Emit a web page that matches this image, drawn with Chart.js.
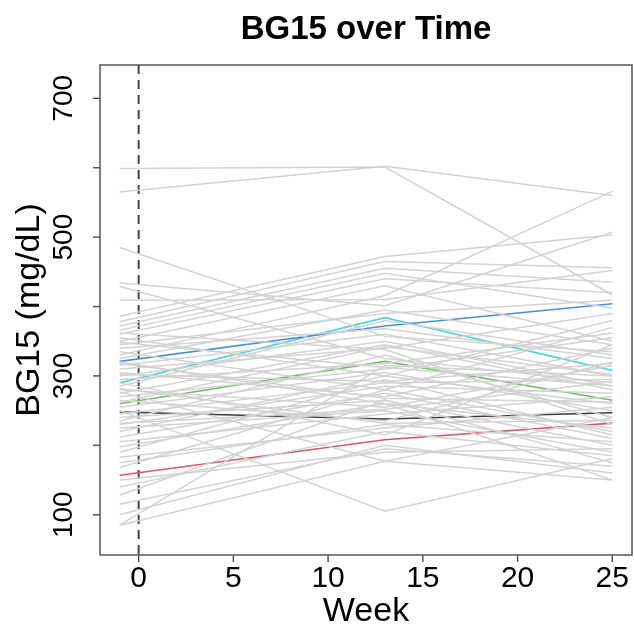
<!DOCTYPE html>
<html>
<head>
<meta charset="utf-8">
<script src="https://cdn.jsdelivr.net/npm/chart.js@4.4.1/dist/chart.umd.min.js"></script>
<style>
  html, body { margin: 0; padding: 0; background: #fff; }
  #wrap { width: 634px; height: 634px; }
</style>
</head>
<body>
<div id="wrap"><canvas id="chart" width="634" height="634"></canvas></div>
<script>
const weeks = [-1, 13, 25];
const xTicks = [0, 5, 10, 15, 20, 25];
const yTicks = [100, 200, 300, 400, 500, 600, 700];
const yTickLabels = ["100", "", "300", "", "500", "", "700"];

// one row per subject: BG15 at week -1, 13, 25
const grayLines = [
  [565, 602, 560], [599, 601, 417], [330, 416, 566], [485, 357, 335],
  [434, 401, 507], [429, 325, 290], [409, 410, 452], [386, 472, 503],
  [378, 465, 456], [372, 455, 435], [366, 448, 398], [360, 440, 420],
  [355, 300, 380], [350, 430, 350], [345, 390, 409], [340, 368, 325],
  [335, 280, 370], [325, 395, 345], [315, 360, 300], [310, 340, 390],
  [305, 270, 340], [300, 350, 285], [295, 318, 362], [285, 380, 330],
  [280, 255, 315], [275, 345, 280], [270, 310, 355], [265, 235, 320],
  [255, 305, 250], [250, 105, 181], [245, 290, 295], [240, 265, 200],
  [235, 330, 240], [230, 285, 275], [225, 250, 190], [220, 300, 260],
  [212, 275, 210], [205, 245, 270], [198, 260, 225], [190, 295, 215],
  [183, 225, 255], [175, 230, 205], [168, 280, 220], [150, 190, 195],
  [140, 220, 185], [128, 265, 175], [115, 195, 170], [100, 200, 160],
  [85, 315, 300], [85, 177, 150], [277, 177, 240], [320, 260, 150],
  [362, 338, 230], [290, 215, 345], [348, 312, 286], [302, 292, 318],
  [262, 342, 302], [232, 252, 292], [318, 268, 262], [282, 232, 236]
];

const blueLine = [321, 372, 404];
const cyanLine = [290, 384, 308];
const greenLine = [260, 321, 265];
const blackLine = [248, 238, 247];
const redLine = [157, 208, 232];

function toPoints(values) {
  return weeks.map((w, i) => ({ x: w, y: values[i] }));
}

function lineSet(values, color, width) {
  return {
    data: toPoints(values),
    borderColor: color,
    borderWidth: width,
    pointRadius: 0,
    fill: false,
    tension: 0,
  };
}

const datasets = grayLines.map((v) => lineSet(v, "#d3d3d3", 1.5));
datasets.push(lineSet(blueLine, "#4a8fdc", 1.6));
datasets.push(lineSet(cyanLine, "#52d3d9", 1.6));
datasets.push(lineSet(greenLine, "#6cc060", 1.6));
datasets.push(lineSet(blackLine, "#3a3a3a", 1.6));
datasets.push(lineSet(redLine, "#d9566e", 1.6));

const FONT = "'Liberation Sans', Arial, sans-serif";

// base-graphics style frame, ticks and labels drawn from the scales
const rFrame = {
  id: "rFrame",
  beforeDatasetsDraw(chart) {
    const { ctx, chartArea, scales } = chart;
    const x0 = scales.x.getPixelForValue(0);
    ctx.save();
    ctx.strokeStyle = "#444";
    ctx.lineWidth = 2;
    ctx.setLineDash([9, 6]);
    ctx.beginPath();
    ctx.moveTo(x0, chartArea.top);
    ctx.lineTo(x0, chartArea.bottom);
    ctx.stroke();
    ctx.restore();
  },
  afterDraw(chart) {
    const { ctx, chartArea, scales } = chart;
    const { left, right, top, bottom } = chartArea;
    ctx.save();
    ctx.strokeStyle = "#555";
    ctx.lineWidth = 1.5;
    ctx.strokeRect(left, top, right - left, bottom - top);

    ctx.fillStyle = "#000";
    ctx.textAlign = "center";
    ctx.textBaseline = "middle";

    // x axis
    ctx.font = "30px " + FONT;
    xTicks.forEach((v) => {
      const px = scales.x.getPixelForValue(v);
      ctx.beginPath();
      ctx.moveTo(px, bottom);
      ctx.lineTo(px, bottom + 7);
      ctx.stroke();
      ctx.fillText(String(v), px, bottom + 24);
    });

    // y axis
    ctx.font = "28px " + FONT;
    yTicks.forEach((v, i) => {
      const py = scales.y.getPixelForValue(v);
      ctx.beginPath();
      ctx.moveTo(left, py);
      ctx.lineTo(left - 7, py);
      ctx.stroke();
      if (yTickLabels[i]) {
        ctx.save();
        ctx.translate(left - 36, py);
        ctx.rotate(-Math.PI / 2);
        ctx.fillText(yTickLabels[i], 0, 0);
        ctx.restore();
      }
    });

    ctx.font = "34px " + FONT;
    ctx.fillText("Week", (left + right) / 2, bottom + 57);
    ctx.save();
    ctx.translate(30, (top + bottom) / 2);
    ctx.rotate(-Math.PI / 2);
    ctx.fillText("BG15 (mg/dL)", 0, 0);
    ctx.restore();

    ctx.font = "bold 33px " + FONT;
    ctx.fillText("BG15 over Time", (left + right) / 2, 30);
    ctx.restore();
  },
};

new Chart(document.getElementById("chart"), {
  type: "line",
  data: { datasets },
  options: {
    responsive: false,
    animation: false,
    layout: {
      padding: { left: 100, right: 2, top: 65, bottom: 79 },
    },
    plugins: {
      legend: { display: false },
      tooltip: { enabled: false },
    },
    scales: {
      x: { type: "linear", min: -2.04, max: 26.04, display: false },
      y: { type: "linear", min: 42, max: 748, display: false },
    },
  },
  plugins: [rFrame],
});
</script>
</body>
</html>
